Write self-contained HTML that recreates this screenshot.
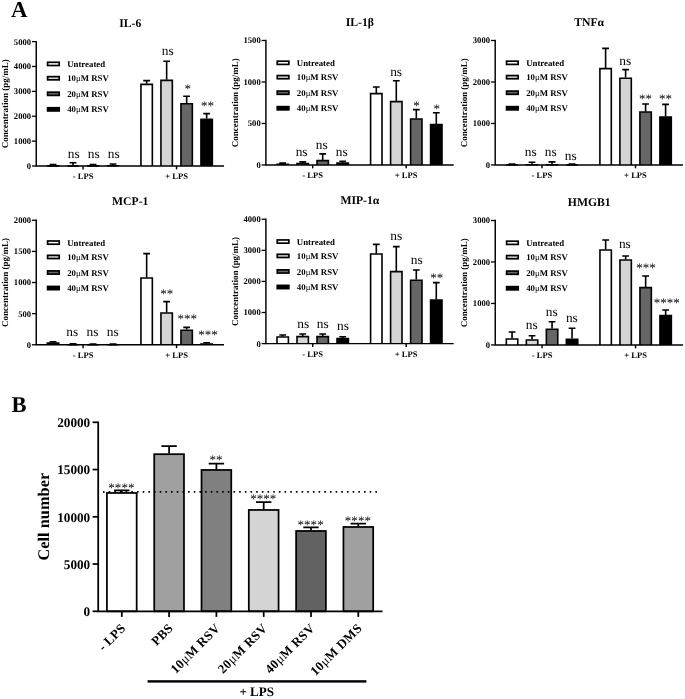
<!DOCTYPE html>
<html lang="en"><head><meta charset="utf-8"><title>Figure</title>
<style>html,body{margin:0;padding:0;background:#fff}body{width:685px;height:699px;overflow:hidden}svg{display:block;text-rendering:geometricPrecision;font-family:"Liberation Serif","DejaVu Serif",serif;fill:#000}</style></head><body>
<svg width="685" height="699" viewBox="0 0 685 699">
<rect width="685" height="699" fill="#fff"/>
<text x="11.1" y="17.35" font-size="22.8" font-weight="bold">A</text>
<text x="11.5" y="411.6" font-size="22.5" font-weight="bold">B</text>
<g>
<text x="130.25" y="26.7" font-size="11.7" font-weight="bold" text-anchor="middle">IL-6</text>
<text transform="translate(8.45 103.8) rotate(-90)" font-size="8.97" font-weight="bold" text-anchor="middle">Concentration (pg/mL)</text>
<line x1="31.95" y1="41.6" x2="36.25" y2="41.6" stroke="#000" stroke-width="1.3"/>
<text x="31.05" y="44.5" font-size="8.6" font-weight="bold" text-anchor="end">5000</text>
<line x1="31.95" y1="66.48" x2="36.25" y2="66.48" stroke="#000" stroke-width="1.3"/>
<text x="31.05" y="69.38" font-size="8.6" font-weight="bold" text-anchor="end">4000</text>
<line x1="31.95" y1="91.36" x2="36.25" y2="91.36" stroke="#000" stroke-width="1.3"/>
<text x="31.05" y="94.26" font-size="8.6" font-weight="bold" text-anchor="end">3000</text>
<line x1="31.95" y1="116.24" x2="36.25" y2="116.24" stroke="#000" stroke-width="1.3"/>
<text x="31.05" y="119.14" font-size="8.6" font-weight="bold" text-anchor="end">2000</text>
<line x1="31.95" y1="141.12" x2="36.25" y2="141.12" stroke="#000" stroke-width="1.3"/>
<text x="31.05" y="144.02" font-size="8.6" font-weight="bold" text-anchor="end">1000</text>
<line x1="31.95" y1="166" x2="36.25" y2="166" stroke="#000" stroke-width="1.3"/>
<text x="31.05" y="168.9" font-size="8.6" font-weight="bold" text-anchor="end">0</text>
<rect x="47.6" y="62.3" width="11.6" height="3.2" fill="#ffffff" stroke="#000" stroke-width="1.7"/>
<text x="67.2" y="66.95" font-size="8.8" font-weight="bold">Untreated</text>
<rect x="47.6" y="76.65" width="11.6" height="3.2" fill="#d4d4d4" stroke="#000" stroke-width="1.7"/>
<text x="67.2" y="81.3" font-size="8.8" font-weight="bold">10<tspan font-weight="normal">μ</tspan>M RSV</text>
<rect x="47.6" y="92.2" width="11.6" height="3.2" fill="#666666" stroke="#000" stroke-width="1.7"/>
<text x="67.2" y="96.85" font-size="8.8" font-weight="bold">20<tspan font-weight="normal">μ</tspan>M RSV</text>
<rect x="47.6" y="107.75" width="11.6" height="3.2" fill="#000000" stroke="#000" stroke-width="1.7"/>
<text x="67.2" y="112.4" font-size="8.8" font-weight="bold">40<tspan font-weight="normal">μ</tspan>M RSV</text>
<path d="M53.05 165.3V164.5M49.65 164.5H56.45" stroke="#000" stroke-width="1.6" fill="none"/>
<path d="M47.35 166V165.9H58.75V166" fill="#ffffff" stroke="#000" stroke-width="1.6" stroke-linejoin="miter"/>
<path d="M73.05 165.4V162.8M69.65 162.8H76.45" stroke="#000" stroke-width="1.6" fill="none"/>
<path d="M67.35 166V166H78.75V166" fill="#d4d4d4" stroke="#000" stroke-width="1.6" stroke-linejoin="miter"/>
<path d="M93.05 165.3V164.5M89.65 164.5H96.45" stroke="#000" stroke-width="1.6" fill="none"/>
<path d="M87.35 166V165.9H98.75V166" fill="#666666" stroke="#000" stroke-width="1.6" stroke-linejoin="miter"/>
<path d="M113.05 165.1V164M109.65 164H116.45" stroke="#000" stroke-width="1.6" fill="none"/>
<path d="M107.35 166V165.7H118.75V166" fill="#000000" stroke="#000" stroke-width="1.6" stroke-linejoin="miter"/>
<path d="M146.65 83.8V80.6M143.25 80.6H150.05" stroke="#000" stroke-width="1.6" fill="none"/>
<path d="M140.95 166V84.4H152.35V166" fill="#ffffff" stroke="#000" stroke-width="1.6" stroke-linejoin="miter"/>
<path d="M166.65 79.8V61.2M163.25 61.2H170.05" stroke="#000" stroke-width="1.6" fill="none"/>
<path d="M160.95 166V80.4H172.35V166" fill="#d4d4d4" stroke="#000" stroke-width="1.6" stroke-linejoin="miter"/>
<path d="M186.65 103.2V96.2M183.25 96.2H190.05" stroke="#000" stroke-width="1.6" fill="none"/>
<path d="M180.95 166V103.8H192.35V166" fill="#666666" stroke="#000" stroke-width="1.6" stroke-linejoin="miter"/>
<path d="M206.65 118.6V113.6M203.25 113.6H210.05" stroke="#000" stroke-width="1.6" fill="none"/>
<path d="M200.95 166V119.2H212.35V166" fill="#000000" stroke="#000" stroke-width="1.6" stroke-linejoin="miter"/>
<path d="M36.25 40.88V166H224.05" stroke="#000" stroke-width="1.45" fill="none"/>
<line x1="83.05" y1="166" x2="83.05" y2="169.4" stroke="#000" stroke-width="1.45"/>
<text x="83.05" y="179.1" font-size="8.6" font-weight="bold" text-anchor="middle">- LPS</text>
<line x1="176.55" y1="166" x2="176.55" y2="169.4" stroke="#000" stroke-width="1.45"/>
<text x="176.55" y="179.1" font-size="8.6" font-weight="bold" text-anchor="middle">+ LPS</text>
<text x="73.65" y="157.6" font-size="13.4" text-anchor="middle" fill="#0a0a0a">ns</text>
<text x="93.65" y="157.6" font-size="13.4" text-anchor="middle" fill="#0a0a0a">ns</text>
<text x="113.65" y="157.6" font-size="13.4" text-anchor="middle" fill="#0a0a0a">ns</text>
<text x="167.75" y="54.8" font-size="13.4" text-anchor="middle" fill="#0a0a0a">ns</text>
<text x="187.85" y="92.85" font-size="13.0" text-anchor="middle" fill="#0a0a0a">*</text>
<text x="207.55" y="110.45" font-size="13.0" text-anchor="middle" fill="#0a0a0a">**</text>
</g>
<g>
<text x="359.9" y="25.6" font-size="11.7" font-weight="bold" text-anchor="middle">IL-1β</text>
<text transform="translate(238.1 102.72) rotate(-90)" font-size="8.97" font-weight="bold" text-anchor="middle">Concentration (pg/mL)</text>
<line x1="261.6" y1="40.5" x2="265.9" y2="40.5" stroke="#000" stroke-width="1.3"/>
<text x="260.7" y="43.4" font-size="8.6" font-weight="bold" text-anchor="end">1500</text>
<line x1="261.6" y1="81.98" x2="265.9" y2="81.98" stroke="#000" stroke-width="1.3"/>
<text x="260.7" y="84.88" font-size="8.6" font-weight="bold" text-anchor="end">1000</text>
<line x1="261.6" y1="123.47" x2="265.9" y2="123.47" stroke="#000" stroke-width="1.3"/>
<text x="260.7" y="126.37" font-size="8.6" font-weight="bold" text-anchor="end">500</text>
<line x1="261.6" y1="164.95" x2="265.9" y2="164.95" stroke="#000" stroke-width="1.3"/>
<text x="260.7" y="167.85" font-size="8.6" font-weight="bold" text-anchor="end">0</text>
<rect x="277.25" y="61.2" width="11.6" height="3.2" fill="#ffffff" stroke="#000" stroke-width="1.7"/>
<text x="296.85" y="65.85" font-size="8.8" font-weight="bold">Untreated</text>
<rect x="277.25" y="75.55" width="11.6" height="3.2" fill="#d4d4d4" stroke="#000" stroke-width="1.7"/>
<text x="296.85" y="80.2" font-size="8.8" font-weight="bold">10<tspan font-weight="normal">μ</tspan>M RSV</text>
<rect x="277.25" y="91.1" width="11.6" height="3.2" fill="#666666" stroke="#000" stroke-width="1.7"/>
<text x="296.85" y="95.75" font-size="8.8" font-weight="bold">20<tspan font-weight="normal">μ</tspan>M RSV</text>
<rect x="277.25" y="106.65" width="11.6" height="3.2" fill="#000000" stroke="#000" stroke-width="1.7"/>
<text x="296.85" y="111.3" font-size="8.8" font-weight="bold">40<tspan font-weight="normal">μ</tspan>M RSV</text>
<path d="M282.7 163.7V163.1M279.3 163.1H286.1" stroke="#000" stroke-width="1.6" fill="none"/>
<path d="M277 164.95V164.3H288.4V164.95" fill="#ffffff" stroke="#000" stroke-width="1.6" stroke-linejoin="miter"/>
<path d="M302.7 163V161.9M299.3 161.9H306.1" stroke="#000" stroke-width="1.6" fill="none"/>
<path d="M297 164.95V163.6H308.4V164.95" fill="#d4d4d4" stroke="#000" stroke-width="1.6" stroke-linejoin="miter"/>
<path d="M322.7 160V153.9M319.3 153.9H326.1" stroke="#000" stroke-width="1.6" fill="none"/>
<path d="M317 164.95V160.6H328.4V164.95" fill="#666666" stroke="#000" stroke-width="1.6" stroke-linejoin="miter"/>
<path d="M342.7 162.4V161.2M339.3 161.2H346.1" stroke="#000" stroke-width="1.6" fill="none"/>
<path d="M337 164.95V163H348.4V164.95" fill="#000000" stroke="#000" stroke-width="1.6" stroke-linejoin="miter"/>
<path d="M376.3 93V87M372.9 87H379.7" stroke="#000" stroke-width="1.6" fill="none"/>
<path d="M370.6 164.95V93.6H382V164.95" fill="#ffffff" stroke="#000" stroke-width="1.6" stroke-linejoin="miter"/>
<path d="M396.3 101V80.8M392.9 80.8H399.7" stroke="#000" stroke-width="1.6" fill="none"/>
<path d="M390.6 164.95V101.6H402V164.95" fill="#d4d4d4" stroke="#000" stroke-width="1.6" stroke-linejoin="miter"/>
<path d="M416.3 118.4V109.6M412.9 109.6H419.7" stroke="#000" stroke-width="1.6" fill="none"/>
<path d="M410.6 164.95V119H422V164.95" fill="#666666" stroke="#000" stroke-width="1.6" stroke-linejoin="miter"/>
<path d="M436.3 124V112.8M432.9 112.8H439.7" stroke="#000" stroke-width="1.6" fill="none"/>
<path d="M430.6 164.95V124.6H442V164.95" fill="#000000" stroke="#000" stroke-width="1.6" stroke-linejoin="miter"/>
<path d="M265.9 39.77V164.95H453.7" stroke="#000" stroke-width="1.45" fill="none"/>
<line x1="312.7" y1="164.95" x2="312.7" y2="168.35" stroke="#000" stroke-width="1.45"/>
<text x="312.7" y="178.05" font-size="8.6" font-weight="bold" text-anchor="middle">- LPS</text>
<line x1="406.2" y1="164.95" x2="406.2" y2="168.35" stroke="#000" stroke-width="1.45"/>
<text x="406.2" y="178.05" font-size="8.6" font-weight="bold" text-anchor="middle">+ LPS</text>
<text x="301.6" y="155.9" font-size="13.4" text-anchor="middle" fill="#0a0a0a">ns</text>
<text x="321.8" y="149.3" font-size="13.4" text-anchor="middle" fill="#0a0a0a">ns</text>
<text x="341.8" y="155.9" font-size="13.4" text-anchor="middle" fill="#0a0a0a">ns</text>
<text x="396.1" y="75.7" font-size="13.4" text-anchor="middle" fill="#0a0a0a">ns</text>
<text x="416.4" y="110.45" font-size="13.0" text-anchor="middle" fill="#0a0a0a">*</text>
<text x="436.8" y="113.05" font-size="13.0" text-anchor="middle" fill="#0a0a0a">*</text>
</g>
<g>
<text x="589.2" y="25.6" font-size="11.7" font-weight="bold" text-anchor="middle">TNFα</text>
<text transform="translate(467.4 102.72) rotate(-90)" font-size="8.97" font-weight="bold" text-anchor="middle">Concentration (pg/mL)</text>
<line x1="490.9" y1="40.5" x2="495.2" y2="40.5" stroke="#000" stroke-width="1.3"/>
<text x="490" y="43.4" font-size="8.6" font-weight="bold" text-anchor="end">3000</text>
<line x1="490.9" y1="81.98" x2="495.2" y2="81.98" stroke="#000" stroke-width="1.3"/>
<text x="490" y="84.88" font-size="8.6" font-weight="bold" text-anchor="end">2000</text>
<line x1="490.9" y1="123.47" x2="495.2" y2="123.47" stroke="#000" stroke-width="1.3"/>
<text x="490" y="126.37" font-size="8.6" font-weight="bold" text-anchor="end">1000</text>
<line x1="490.9" y1="164.95" x2="495.2" y2="164.95" stroke="#000" stroke-width="1.3"/>
<text x="490" y="167.85" font-size="8.6" font-weight="bold" text-anchor="end">0</text>
<rect x="506.55" y="61.2" width="11.6" height="3.2" fill="#ffffff" stroke="#000" stroke-width="1.7"/>
<text x="526.15" y="65.85" font-size="8.8" font-weight="bold">Untreated</text>
<rect x="506.55" y="75.55" width="11.6" height="3.2" fill="#d4d4d4" stroke="#000" stroke-width="1.7"/>
<text x="526.15" y="80.2" font-size="8.8" font-weight="bold">10<tspan font-weight="normal">μ</tspan>M RSV</text>
<rect x="506.55" y="91.1" width="11.6" height="3.2" fill="#666666" stroke="#000" stroke-width="1.7"/>
<text x="526.15" y="95.75" font-size="8.8" font-weight="bold">20<tspan font-weight="normal">μ</tspan>M RSV</text>
<rect x="506.55" y="106.65" width="11.6" height="3.2" fill="#000000" stroke="#000" stroke-width="1.7"/>
<text x="526.15" y="111.3" font-size="8.8" font-weight="bold">40<tspan font-weight="normal">μ</tspan>M RSV</text>
<path d="M512 164.95V164.15M508.6 164.15H515.4" stroke="#000" stroke-width="1.6" fill="none"/>
<path d="M506.3 164.95V164.95H517.7V164.95" fill="#ffffff" stroke="#000" stroke-width="1.6" stroke-linejoin="miter"/>
<path d="M532 164.2V162.2M528.6 162.2H535.4" stroke="#000" stroke-width="1.6" fill="none"/>
<path d="M526.3 164.95V164.8H537.7V164.95" fill="#d4d4d4" stroke="#000" stroke-width="1.6" stroke-linejoin="miter"/>
<path d="M552 164.2V161.9M548.6 161.9H555.4" stroke="#000" stroke-width="1.6" fill="none"/>
<path d="M546.3 164.95V164.8H557.7V164.95" fill="#666666" stroke="#000" stroke-width="1.6" stroke-linejoin="miter"/>
<path d="M572 164.95V164.15M568.6 164.15H575.4" stroke="#000" stroke-width="1.6" fill="none"/>
<path d="M566.3 164.95V164.95H577.7V164.95" fill="#000000" stroke="#000" stroke-width="1.6" stroke-linejoin="miter"/>
<path d="M605.6 68V48.4M602.2 48.4H609" stroke="#000" stroke-width="1.6" fill="none"/>
<path d="M599.9 164.95V68.6H611.3V164.95" fill="#ffffff" stroke="#000" stroke-width="1.6" stroke-linejoin="miter"/>
<path d="M625.6 77.6V69.6M622.2 69.6H629" stroke="#000" stroke-width="1.6" fill="none"/>
<path d="M619.9 164.95V78.2H631.3V164.95" fill="#d4d4d4" stroke="#000" stroke-width="1.6" stroke-linejoin="miter"/>
<path d="M645.6 111.4V104M642.2 104H649" stroke="#000" stroke-width="1.6" fill="none"/>
<path d="M639.9 164.95V112H651.3V164.95" fill="#666666" stroke="#000" stroke-width="1.6" stroke-linejoin="miter"/>
<path d="M665.6 116.4V104.4M662.2 104.4H669" stroke="#000" stroke-width="1.6" fill="none"/>
<path d="M659.9 164.95V117H671.3V164.95" fill="#000000" stroke="#000" stroke-width="1.6" stroke-linejoin="miter"/>
<path d="M495.2 39.77V164.95H683" stroke="#000" stroke-width="1.45" fill="none"/>
<line x1="542" y1="164.95" x2="542" y2="168.35" stroke="#000" stroke-width="1.45"/>
<text x="542" y="178.05" font-size="8.6" font-weight="bold" text-anchor="middle">- LPS</text>
<line x1="635.5" y1="164.95" x2="635.5" y2="168.35" stroke="#000" stroke-width="1.45"/>
<text x="635.5" y="178.05" font-size="8.6" font-weight="bold" text-anchor="middle">+ LPS</text>
<text x="530.7" y="156" font-size="13.4" text-anchor="middle" fill="#0a0a0a">ns</text>
<text x="550.8" y="156" font-size="13.4" text-anchor="middle" fill="#0a0a0a">ns</text>
<text x="570.8" y="160" font-size="13.4" text-anchor="middle" fill="#0a0a0a">ns</text>
<text x="625.2" y="64.7" font-size="13.4" text-anchor="middle" fill="#0a0a0a">ns</text>
<text x="645.6" y="103.45" font-size="13.0" text-anchor="middle" fill="#0a0a0a">**</text>
<text x="665.6" y="103.45" font-size="13.0" text-anchor="middle" fill="#0a0a0a">**</text>
</g>
<g>
<text x="130.25" y="205.4" font-size="11.7" font-weight="bold" text-anchor="middle">MCP-1</text>
<text transform="translate(8.45 282.52) rotate(-90)" font-size="8.97" font-weight="bold" text-anchor="middle">Concentration (pg/mL)</text>
<line x1="31.95" y1="220.3" x2="36.25" y2="220.3" stroke="#000" stroke-width="1.3"/>
<text x="31.05" y="223.2" font-size="8.6" font-weight="bold" text-anchor="end">2000</text>
<line x1="31.95" y1="251.41" x2="36.25" y2="251.41" stroke="#000" stroke-width="1.3"/>
<text x="31.05" y="254.31" font-size="8.6" font-weight="bold" text-anchor="end">1500</text>
<line x1="31.95" y1="282.52" x2="36.25" y2="282.52" stroke="#000" stroke-width="1.3"/>
<text x="31.05" y="285.42" font-size="8.6" font-weight="bold" text-anchor="end">1000</text>
<line x1="31.95" y1="313.64" x2="36.25" y2="313.64" stroke="#000" stroke-width="1.3"/>
<text x="31.05" y="316.54" font-size="8.6" font-weight="bold" text-anchor="end">500</text>
<line x1="31.95" y1="344.75" x2="36.25" y2="344.75" stroke="#000" stroke-width="1.3"/>
<text x="31.05" y="347.65" font-size="8.6" font-weight="bold" text-anchor="end">0</text>
<rect x="47.6" y="241" width="11.6" height="3.2" fill="#ffffff" stroke="#000" stroke-width="1.7"/>
<text x="67.2" y="245.65" font-size="8.8" font-weight="bold">Untreated</text>
<rect x="47.6" y="255.35" width="11.6" height="3.2" fill="#d4d4d4" stroke="#000" stroke-width="1.7"/>
<text x="67.2" y="260" font-size="8.8" font-weight="bold">10<tspan font-weight="normal">μ</tspan>M RSV</text>
<rect x="47.6" y="270.9" width="11.6" height="3.2" fill="#666666" stroke="#000" stroke-width="1.7"/>
<text x="67.2" y="275.55" font-size="8.8" font-weight="bold">20<tspan font-weight="normal">μ</tspan>M RSV</text>
<rect x="47.6" y="286.45" width="11.6" height="3.2" fill="#000000" stroke="#000" stroke-width="1.7"/>
<text x="67.2" y="291.1" font-size="8.8" font-weight="bold">40<tspan font-weight="normal">μ</tspan>M RSV</text>
<path d="M53.05 342.5V341.8M49.65 341.8H56.45" stroke="#000" stroke-width="1.6" fill="none"/>
<path d="M47.35 344.75V343.1H58.75V344.75" fill="#ffffff" stroke="#000" stroke-width="1.6" stroke-linejoin="miter"/>
<path d="M73.05 344.75V343.9M69.65 343.9H76.45" stroke="#000" stroke-width="1.6" fill="none"/>
<path d="M67.35 344.75V344.75H78.75V344.75" fill="#d4d4d4" stroke="#000" stroke-width="1.6" stroke-linejoin="miter"/>
<path d="M93.05 344.75V343.95M89.65 343.95H96.45" stroke="#000" stroke-width="1.6" fill="none"/>
<path d="M87.35 344.75V344.75H98.75V344.75" fill="#666666" stroke="#000" stroke-width="1.6" stroke-linejoin="miter"/>
<path d="M113.05 344.75V344M109.65 344H116.45" stroke="#000" stroke-width="1.6" fill="none"/>
<path d="M107.35 344.75V344.75H118.75V344.75" fill="#000000" stroke="#000" stroke-width="1.6" stroke-linejoin="miter"/>
<path d="M146.65 277.4V253.6M143.25 253.6H150.05" stroke="#000" stroke-width="1.6" fill="none"/>
<path d="M140.95 344.75V278H152.35V344.75" fill="#ffffff" stroke="#000" stroke-width="1.6" stroke-linejoin="miter"/>
<path d="M166.65 312.4V301.6M163.25 301.6H170.05" stroke="#000" stroke-width="1.6" fill="none"/>
<path d="M160.95 344.75V313H172.35V344.75" fill="#d4d4d4" stroke="#000" stroke-width="1.6" stroke-linejoin="miter"/>
<path d="M186.65 329.6V327.4M183.25 327.4H190.05" stroke="#000" stroke-width="1.6" fill="none"/>
<path d="M180.95 344.75V330.2H192.35V344.75" fill="#666666" stroke="#000" stroke-width="1.6" stroke-linejoin="miter"/>
<path d="M206.65 343.4V342.8M203.25 342.8H210.05" stroke="#000" stroke-width="1.6" fill="none"/>
<path d="M200.95 344.75V344H212.35V344.75" fill="#000000" stroke="#000" stroke-width="1.6" stroke-linejoin="miter"/>
<path d="M36.25 219.58V344.75H224.05" stroke="#000" stroke-width="1.45" fill="none"/>
<line x1="83.05" y1="344.75" x2="83.05" y2="348.15" stroke="#000" stroke-width="1.45"/>
<text x="83.05" y="357.85" font-size="8.6" font-weight="bold" text-anchor="middle">- LPS</text>
<line x1="176.55" y1="344.75" x2="176.55" y2="348.15" stroke="#000" stroke-width="1.45"/>
<text x="176.55" y="357.85" font-size="8.6" font-weight="bold" text-anchor="middle">+ LPS</text>
<text x="72.15" y="336.4" font-size="13.4" text-anchor="middle" fill="#0a0a0a">ns</text>
<text x="92.45" y="336.4" font-size="13.4" text-anchor="middle" fill="#0a0a0a">ns</text>
<text x="112.65" y="336.4" font-size="13.4" text-anchor="middle" fill="#0a0a0a">ns</text>
<text x="166.65" y="297.85" font-size="13.0" text-anchor="middle" fill="#0a0a0a">**</text>
<text x="187.35" y="323.45" font-size="13.0" text-anchor="middle" fill="#0a0a0a">***</text>
<text x="208.05" y="339.05" font-size="13.0" text-anchor="middle" fill="#0a0a0a">***</text>
</g>
<g>
<text x="359.9" y="204.35" font-size="11.7" font-weight="bold" text-anchor="middle">MIP-1α</text>
<text transform="translate(238.1 281.43) rotate(-90)" font-size="8.97" font-weight="bold" text-anchor="middle">Concentration (pg/mL)</text>
<line x1="261.6" y1="219.25" x2="265.9" y2="219.25" stroke="#000" stroke-width="1.3"/>
<text x="260.7" y="222.15" font-size="8.6" font-weight="bold" text-anchor="end">4000</text>
<line x1="261.6" y1="250.34" x2="265.9" y2="250.34" stroke="#000" stroke-width="1.3"/>
<text x="260.7" y="253.24" font-size="8.6" font-weight="bold" text-anchor="end">3000</text>
<line x1="261.6" y1="281.43" x2="265.9" y2="281.43" stroke="#000" stroke-width="1.3"/>
<text x="260.7" y="284.32" font-size="8.6" font-weight="bold" text-anchor="end">2000</text>
<line x1="261.6" y1="312.51" x2="265.9" y2="312.51" stroke="#000" stroke-width="1.3"/>
<text x="260.7" y="315.41" font-size="8.6" font-weight="bold" text-anchor="end">1000</text>
<line x1="261.6" y1="343.6" x2="265.9" y2="343.6" stroke="#000" stroke-width="1.3"/>
<text x="260.7" y="346.5" font-size="8.6" font-weight="bold" text-anchor="end">0</text>
<rect x="277.25" y="239.95" width="11.6" height="3.2" fill="#ffffff" stroke="#000" stroke-width="1.7"/>
<text x="296.85" y="244.6" font-size="8.8" font-weight="bold">Untreated</text>
<rect x="277.25" y="254.3" width="11.6" height="3.2" fill="#d4d4d4" stroke="#000" stroke-width="1.7"/>
<text x="296.85" y="258.95" font-size="8.8" font-weight="bold">10<tspan font-weight="normal">μ</tspan>M RSV</text>
<rect x="277.25" y="269.85" width="11.6" height="3.2" fill="#666666" stroke="#000" stroke-width="1.7"/>
<text x="296.85" y="274.5" font-size="8.8" font-weight="bold">20<tspan font-weight="normal">μ</tspan>M RSV</text>
<rect x="277.25" y="285.4" width="11.6" height="3.2" fill="#000000" stroke="#000" stroke-width="1.7"/>
<text x="296.85" y="290.05" font-size="8.8" font-weight="bold">40<tspan font-weight="normal">μ</tspan>M RSV</text>
<path d="M282.7 336.4V335M279.3 335H286.1" stroke="#000" stroke-width="1.6" fill="none"/>
<path d="M277 343.6V337H288.4V343.6" fill="#ffffff" stroke="#000" stroke-width="1.6" stroke-linejoin="miter"/>
<path d="M302.7 336V334M299.3 334H306.1" stroke="#000" stroke-width="1.6" fill="none"/>
<path d="M297 343.6V336.6H308.4V343.6" fill="#d4d4d4" stroke="#000" stroke-width="1.6" stroke-linejoin="miter"/>
<path d="M322.7 336V334M319.3 334H326.1" stroke="#000" stroke-width="1.6" fill="none"/>
<path d="M317 343.6V336.6H328.4V343.6" fill="#666666" stroke="#000" stroke-width="1.6" stroke-linejoin="miter"/>
<path d="M342.7 338V336.8M339.3 336.8H346.1" stroke="#000" stroke-width="1.6" fill="none"/>
<path d="M337 343.6V338.6H348.4V343.6" fill="#000000" stroke="#000" stroke-width="1.6" stroke-linejoin="miter"/>
<path d="M376.3 253.4V244.4M372.9 244.4H379.7" stroke="#000" stroke-width="1.6" fill="none"/>
<path d="M370.6 343.6V254H382V343.6" fill="#ffffff" stroke="#000" stroke-width="1.6" stroke-linejoin="miter"/>
<path d="M396.3 271V246.6M392.9 246.6H399.7" stroke="#000" stroke-width="1.6" fill="none"/>
<path d="M390.6 343.6V271.6H402V343.6" fill="#d4d4d4" stroke="#000" stroke-width="1.6" stroke-linejoin="miter"/>
<path d="M416.3 279.6V270M412.9 270H419.7" stroke="#000" stroke-width="1.6" fill="none"/>
<path d="M410.6 343.6V280.2H422V343.6" fill="#666666" stroke="#000" stroke-width="1.6" stroke-linejoin="miter"/>
<path d="M436.3 299.4V282.6M432.9 282.6H439.7" stroke="#000" stroke-width="1.6" fill="none"/>
<path d="M430.6 343.6V300H442V343.6" fill="#000000" stroke="#000" stroke-width="1.6" stroke-linejoin="miter"/>
<path d="M265.9 218.53V343.6H453.7" stroke="#000" stroke-width="1.45" fill="none"/>
<line x1="312.7" y1="343.6" x2="312.7" y2="347" stroke="#000" stroke-width="1.45"/>
<text x="312.7" y="356.7" font-size="8.6" font-weight="bold" text-anchor="middle">- LPS</text>
<line x1="406.2" y1="343.6" x2="406.2" y2="347" stroke="#000" stroke-width="1.45"/>
<text x="406.2" y="356.7" font-size="8.6" font-weight="bold" text-anchor="middle">+ LPS</text>
<text x="303.3" y="328.4" font-size="13.4" text-anchor="middle" fill="#0a0a0a">ns</text>
<text x="322.7" y="328.4" font-size="13.4" text-anchor="middle" fill="#0a0a0a">ns</text>
<text x="342.9" y="330.4" font-size="13.4" text-anchor="middle" fill="#0a0a0a">ns</text>
<text x="396.2" y="240.4" font-size="13.4" text-anchor="middle" fill="#0a0a0a">ns</text>
<text x="416.8" y="263.6" font-size="13.4" text-anchor="middle" fill="#0a0a0a">ns</text>
<text x="436.8" y="282.05" font-size="13.0" text-anchor="middle" fill="#0a0a0a">**</text>
</g>
<g>
<text x="589.25" y="205.6" font-size="11.7" font-weight="bold" text-anchor="middle">HMGB1</text>
<text transform="translate(467.45 282.73) rotate(-90)" font-size="8.97" font-weight="bold" text-anchor="middle">Concentration (pg/mL)</text>
<line x1="490.95" y1="220.5" x2="495.25" y2="220.5" stroke="#000" stroke-width="1.3"/>
<text x="490.05" y="223.4" font-size="8.6" font-weight="bold" text-anchor="end">3000</text>
<line x1="490.95" y1="261.98" x2="495.25" y2="261.98" stroke="#000" stroke-width="1.3"/>
<text x="490.05" y="264.88" font-size="8.6" font-weight="bold" text-anchor="end">2000</text>
<line x1="490.95" y1="303.47" x2="495.25" y2="303.47" stroke="#000" stroke-width="1.3"/>
<text x="490.05" y="306.37" font-size="8.6" font-weight="bold" text-anchor="end">1000</text>
<line x1="490.95" y1="344.95" x2="495.25" y2="344.95" stroke="#000" stroke-width="1.3"/>
<text x="490.05" y="347.85" font-size="8.6" font-weight="bold" text-anchor="end">0</text>
<rect x="506.6" y="241.2" width="11.6" height="3.2" fill="#ffffff" stroke="#000" stroke-width="1.7"/>
<text x="526.2" y="245.85" font-size="8.8" font-weight="bold">Untreated</text>
<rect x="506.6" y="255.55" width="11.6" height="3.2" fill="#d4d4d4" stroke="#000" stroke-width="1.7"/>
<text x="526.2" y="260.2" font-size="8.8" font-weight="bold">10<tspan font-weight="normal">μ</tspan>M RSV</text>
<rect x="506.6" y="271.1" width="11.6" height="3.2" fill="#666666" stroke="#000" stroke-width="1.7"/>
<text x="526.2" y="275.75" font-size="8.8" font-weight="bold">20<tspan font-weight="normal">μ</tspan>M RSV</text>
<rect x="506.6" y="286.65" width="11.6" height="3.2" fill="#000000" stroke="#000" stroke-width="1.7"/>
<text x="526.2" y="291.3" font-size="8.8" font-weight="bold">40<tspan font-weight="normal">μ</tspan>M RSV</text>
<path d="M512.05 338.4V332M508.65 332H515.45" stroke="#000" stroke-width="1.6" fill="none"/>
<path d="M506.35 344.95V339H517.75V344.95" fill="#ffffff" stroke="#000" stroke-width="1.6" stroke-linejoin="miter"/>
<path d="M532.05 339.4V335.8M528.65 335.8H535.45" stroke="#000" stroke-width="1.6" fill="none"/>
<path d="M526.35 344.95V340H537.75V344.95" fill="#d4d4d4" stroke="#000" stroke-width="1.6" stroke-linejoin="miter"/>
<path d="M552.05 328.6V321.8M548.65 321.8H555.45" stroke="#000" stroke-width="1.6" fill="none"/>
<path d="M546.35 344.95V329.2H557.75V344.95" fill="#666666" stroke="#000" stroke-width="1.6" stroke-linejoin="miter"/>
<path d="M572.05 338.6V328.2M568.65 328.2H575.45" stroke="#000" stroke-width="1.6" fill="none"/>
<path d="M566.35 344.95V339.2H577.75V344.95" fill="#000000" stroke="#000" stroke-width="1.6" stroke-linejoin="miter"/>
<path d="M605.65 249.4V240M602.25 240H609.05" stroke="#000" stroke-width="1.6" fill="none"/>
<path d="M599.95 344.95V250H611.35V344.95" fill="#ffffff" stroke="#000" stroke-width="1.6" stroke-linejoin="miter"/>
<path d="M625.65 259.4V256M622.25 256H629.05" stroke="#000" stroke-width="1.6" fill="none"/>
<path d="M619.95 344.95V260H631.35V344.95" fill="#d4d4d4" stroke="#000" stroke-width="1.6" stroke-linejoin="miter"/>
<path d="M645.65 287V276M642.25 276H649.05" stroke="#000" stroke-width="1.6" fill="none"/>
<path d="M639.95 344.95V287.6H651.35V344.95" fill="#666666" stroke="#000" stroke-width="1.6" stroke-linejoin="miter"/>
<path d="M665.65 315V310M662.25 310H669.05" stroke="#000" stroke-width="1.6" fill="none"/>
<path d="M659.95 344.95V315.6H671.35V344.95" fill="#000000" stroke="#000" stroke-width="1.6" stroke-linejoin="miter"/>
<path d="M495.25 219.78V344.95H683.05" stroke="#000" stroke-width="1.45" fill="none"/>
<line x1="542.05" y1="344.95" x2="542.05" y2="348.35" stroke="#000" stroke-width="1.45"/>
<text x="542.05" y="358.05" font-size="8.6" font-weight="bold" text-anchor="middle">- LPS</text>
<line x1="635.55" y1="344.95" x2="635.55" y2="348.35" stroke="#000" stroke-width="1.45"/>
<text x="635.55" y="358.05" font-size="8.6" font-weight="bold" text-anchor="middle">+ LPS</text>
<text x="531.65" y="328.6" font-size="13.4" text-anchor="middle" fill="#0a0a0a">ns</text>
<text x="551.65" y="316" font-size="13.4" text-anchor="middle" fill="#0a0a0a">ns</text>
<text x="571.85" y="322" font-size="13.4" text-anchor="middle" fill="#0a0a0a">ns</text>
<text x="624.85" y="248" font-size="13.4" text-anchor="middle" fill="#0a0a0a">ns</text>
<text x="645.95" y="272.45" font-size="13.0" text-anchor="middle" fill="#0a0a0a">***</text>
<text x="666.65" y="307.45" font-size="13.0" text-anchor="middle" fill="#0a0a0a">****</text>
</g>
<g>
<text transform="translate(49.2 516.7) rotate(-90)" font-size="16.3" font-weight="bold" text-anchor="middle" letter-spacing="0.05">Cell number</text>
<line x1="92.6" y1="422.3" x2="98.2" y2="422.3" stroke="#000" stroke-width="1.75"/>
<text x="90.2" y="427" font-size="13.2" font-weight="bold" text-anchor="end">20000</text>
<line x1="92.6" y1="469.55" x2="98.2" y2="469.55" stroke="#000" stroke-width="1.75"/>
<text x="90.2" y="474.25" font-size="13.2" font-weight="bold" text-anchor="end">15000</text>
<line x1="92.6" y1="516.8" x2="98.2" y2="516.8" stroke="#000" stroke-width="1.75"/>
<text x="90.2" y="521.5" font-size="13.2" font-weight="bold" text-anchor="end">10000</text>
<line x1="92.6" y1="564.05" x2="98.2" y2="564.05" stroke="#000" stroke-width="1.75"/>
<text x="90.2" y="568.75" font-size="13.2" font-weight="bold" text-anchor="end">5000</text>
<line x1="92.6" y1="611.3" x2="98.2" y2="611.3" stroke="#000" stroke-width="1.75"/>
<text x="90.2" y="616" font-size="13.2" font-weight="bold" text-anchor="end">0</text>
<path d="M121.8 492.4V490.4M114.1 490.4H129.5" stroke="#000" stroke-width="1.75" fill="none"/>
<rect x="106.92" y="492.97" width="29.75" height="118.32" fill="#ffffff" stroke="#000" stroke-width="1.75"/>
<path d="M169.1 453.6V446M161.4 446H176.8" stroke="#000" stroke-width="1.75" fill="none"/>
<rect x="154.22" y="454.18" width="29.75" height="157.12" fill="#a0a0a0" stroke="#000" stroke-width="1.75"/>
<path d="M216.4 469.4V463.6M208.7 463.6H224.1" stroke="#000" stroke-width="1.75" fill="none"/>
<rect x="201.52" y="469.97" width="29.75" height="141.32" fill="#808080" stroke="#000" stroke-width="1.75"/>
<path d="M263.7 509.4V502M256 502H271.4" stroke="#000" stroke-width="1.75" fill="none"/>
<rect x="248.82" y="509.97" width="29.75" height="101.32" fill="#d4d4d4" stroke="#000" stroke-width="1.75"/>
<path d="M311 530.4V527.4M303.3 527.4H318.7" stroke="#000" stroke-width="1.75" fill="none"/>
<rect x="296.12" y="530.98" width="29.75" height="80.32" fill="#626262" stroke="#000" stroke-width="1.75"/>
<path d="M358.3 526.4V523.6M350.6 523.6H366" stroke="#000" stroke-width="1.75" fill="none"/>
<rect x="343.43" y="526.98" width="29.75" height="84.32" fill="#a0a0a0" stroke="#000" stroke-width="1.75"/>
<line x1="102.95" y1="491.9" x2="377.6" y2="491.9" stroke="#000" stroke-width="1.6" stroke-dasharray="1.6 4.075"/>
<path d="M98.2 421.43V611.3H382.5" stroke="#000" stroke-width="1.75" fill="none"/>
<line x1="121.8" y1="611.3" x2="121.8" y2="616.9" stroke="#000" stroke-width="1.75"/>
<text transform="translate(126.3 629.0) rotate(-45)" font-size="13" font-weight="bold" text-anchor="end" letter-spacing="0.15">- LPS</text>
<line x1="169.1" y1="611.3" x2="169.1" y2="616.9" stroke="#000" stroke-width="1.75"/>
<text transform="translate(173.6 629.0) rotate(-45)" font-size="13" font-weight="bold" text-anchor="end" letter-spacing="0.15">PBS</text>
<line x1="216.4" y1="611.3" x2="216.4" y2="616.9" stroke="#000" stroke-width="1.75"/>
<text transform="translate(220.9 629.0) rotate(-45)" font-size="13" font-weight="bold" text-anchor="end" letter-spacing="0.3">10<tspan font-weight="normal">μ</tspan>M RSV</text>
<line x1="263.7" y1="611.3" x2="263.7" y2="616.9" stroke="#000" stroke-width="1.75"/>
<text transform="translate(268.2 629.0) rotate(-45)" font-size="13" font-weight="bold" text-anchor="end" letter-spacing="0.3">20<tspan font-weight="normal">μ</tspan>M RSV</text>
<line x1="311" y1="611.3" x2="311" y2="616.9" stroke="#000" stroke-width="1.75"/>
<text transform="translate(315.5 629.0) rotate(-45)" font-size="13" font-weight="bold" text-anchor="end" letter-spacing="0.3">40<tspan font-weight="normal">μ</tspan>M RSV</text>
<line x1="358.3" y1="611.3" x2="358.3" y2="616.9" stroke="#000" stroke-width="1.75"/>
<text transform="translate(362.8 629.0) rotate(-45)" font-size="13" font-weight="bold" text-anchor="end" letter-spacing="0.3">10<tspan font-weight="normal">μ</tspan>M DMS</text>
<text x="121.4" y="492" font-size="13.1" text-anchor="middle" fill="#0a0a0a">****</text>
<text x="216" y="464.4" font-size="13.1" text-anchor="middle" fill="#0a0a0a">**</text>
<text x="263.3" y="503.4" font-size="13.1" text-anchor="middle" fill="#0a0a0a">****</text>
<text x="310.6" y="529.2" font-size="13.1" text-anchor="middle" fill="#0a0a0a">****</text>
<text x="357.9" y="525.2" font-size="13.1" text-anchor="middle" fill="#0a0a0a">****</text>
<rect x="147.6" y="680.2" width="218.8" height="2.4" fill="#000"/>
<text x="256.7" y="696" font-size="13" font-weight="bold" text-anchor="middle">+ LPS</text>
</g>
</svg></body></html>
